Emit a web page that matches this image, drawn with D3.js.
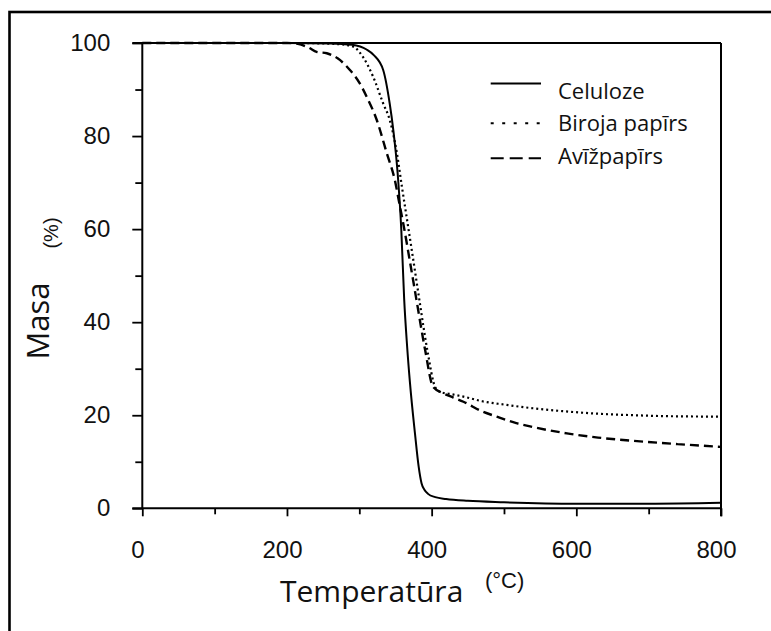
<!DOCTYPE html>
<html><head><meta charset="utf-8">
<script src="https://cdn.jsdelivr.net/npm/d3@7"></script>
<style>body{margin:0;background:#fff}svg{display:block}</style>
</head><body>
<script>
// ---- data ----
const celulozeT = [0,100,200,260,290,310,320,333,342,347,353,358,362,366,370,377,382,386,390,395,405,420,450,500,600,700,800];
const celulozeM = [100,100,100,99.9,99.6,98.6,97.4,94.2,87,81.3,72,60,45,35,27,16,9,5.4,4,3.1,2.4,2.0,1.6,1.3,1.0,1.0,1.2];
const birojaT = [0,100,200,250,275,292,305,319,333,342,352,359,365,374,383,394,405,412,425,444,470,500,540,580,633,680,725,800];
const birojaM = [100,100,100,99.9,99.7,99.2,97,92.8,87,83.5,76.3,69,63,54,44.8,34,26,25,24.6,24,23,22.3,21.5,20.9,20.3,20,19.8,19.7];
const avizT = [0,100,200,215,230,241,255,270,287,300,310,324,338,349,356,361,370,379,391,402,416,430,444,470,490,517,536,587,630,679,740,800];
const avizM = [100,100,100,99.8,99,98.1,97.8,96.7,94.2,91.5,88.5,83.5,76.3,70.6,65,61,53,44.8,34,26.1,24.7,23.8,22.9,20.8,19.7,18.3,17.6,16.1,15.2,14.5,13.8,13.2];
const seriesNames = ["Celuloze","Biroja papīrs","Avīžpapīrs"];
const xMajor = [0,200,400,600,800];
const xMinor = [100,300,500,700];
const yMajor = [0,20,40,60,80,100];
const yMinor = [10,30,50,70,90];

const W = 771, H = 631;
const svg = d3.select("body").append("svg").attr("width", W).attr("height", H);
svg.append("rect").attr("width", W).attr("height", H).attr("fill", "#fff");
// outer frame (right/bottom edges outside the picture)
svg.append("rect").attr("x", 9.5).attr("y", 12).attr("width", 800).attr("height", 700)
  .attr("fill", "none").attr("stroke", "#000").attr("stroke-width", 2.6);

const x = d3.scaleLinear().domain([0, 800]).range([142.3, 721]);
const y = d3.scaleLinear().domain([0, 100]).range([508.3, 43]);

const tickFont = "'Liberation Sans', Arial, sans-serif";
const g = svg.append("g");

// y axis major
const yAx = g.append("g").attr("transform", `translate(${x(0)},0)`)
  .call(d3.axisLeft(y).tickValues(yMajor).tickSize(10).tickPadding(22).tickFormat(d3.format("d")));
yAx.select(".domain").remove();
yAx.selectAll("line").attr("stroke-width", 1.8);
yAx.selectAll("text").attr("font-family", tickFont).attr("font-size", 24).attr("fill", "#111");
const yAxm = g.append("g").attr("transform", `translate(${x(0)},0)`)
  .call(d3.axisLeft(y).tickValues(yMinor).tickSize(7).tickFormat(""));
yAxm.select(".domain").remove();
yAxm.selectAll("line").attr("stroke-width", 1.8);

// x axis
const xAx = g.append("g").attr("transform", `translate(0,${y(0)})`)
  .call(d3.axisBottom(x).tickValues(xMajor).tickSize(8).tickPadding(25).tickFormat(d3.format("d")));
xAx.select(".domain").remove();
xAx.selectAll("line").attr("stroke-width", 1.8);
xAx.selectAll("text").attr("font-family", tickFont).attr("font-size", 24).attr("fill", "#111").attr("dx", -5);
const xAxm = g.append("g").attr("transform", `translate(0,${y(0)})`)
  .call(d3.axisBottom(x).tickValues(xMinor).tickSize(6).tickFormat(""));
xAxm.select(".domain").remove();
xAxm.selectAll("line").attr("stroke-width", 1.8);

// frame lines
const frame = [
  [x(0)-10, y(0), x(800), y(0)],
  [x(0)-10, y(100), x(800), y(100)],
  [x(0), y(100), x(0), y(0)],
  [x(800), y(100), x(800), y(0)+8]
];
g.selectAll("line.frame").data(frame).enter().append("line").attr("class","frame")
  .attr("x1", d=>d[0]).attr("y1", d=>d[1]).attr("x2", d=>d[2]).attr("y2", d=>d[3])
  .attr("stroke", "#000").attr("stroke-width", 2);

// curves
const line = d3.line().x(d=>x(d[0])).y(d=>y(d[1])).curve(d3.curveMonotoneX);
const series = [
  {pts: celulozeT.map((t,i)=>[t, celulozeM[i]]), dash: null, w: 2},
  {pts: birojaT.map((t,i)=>[t, birojaM[i]]), dash: "2,3", w: 2.2},
  {pts: avizT.map((t,i)=>[t, avizM[i]]), dash: "9,5", w: 2.4}
];
series.forEach(s => {
  g.append("path").attr("d", line(s.pts)).attr("fill", "none").attr("stroke", "#000")
   .attr("stroke-width", s.w).attr("stroke-dasharray", s.dash);
});

// legend
const legFont = "'Open Sans', 'Noto Sans', sans-serif";
const leg = [
  {ly: 83.5, ty: 98.5, dash: null},
  {ly: 123.3, ty: 130.5, dash: "3,8.5"},
  {ly: 158.3, ty: 163.5, dash: "13,6"}
];
leg.forEach((l,i) => {
  svg.append("line").attr("x1", 490.7).attr("x2", 541).attr("y1", l.ly).attr("y2", l.ly)
    .attr("stroke", "#000").attr("stroke-width", 2).attr("stroke-dasharray", l.dash);
  svg.append("text").attr("x", 558).attr("y", l.ty).text(seriesNames[i])
    .attr("font-family", legFont).attr("font-size", 22).attr("fill", "#111");
});

// axis titles
svg.append("text").attr("x", 280).attr("y", 602).text("Temperatūra")
  .attr("font-family", legFont).attr("font-size", 30).attr("fill", "#111");
svg.append("text").attr("x", 485).attr("y", 588).text("(°C)")
  .attr("font-family", tickFont).attr("font-size", 22).attr("fill", "#111");
svg.append("text").attr("transform", "translate(49,321) rotate(-90)").attr("text-anchor", "middle")
  .text("Masa").attr("font-family", legFont).attr("font-size", 31).attr("fill", "#111");
svg.append("text").attr("transform", "translate(58,233) rotate(-90)").attr("text-anchor", "middle")
  .text("(%)").attr("font-family", tickFont).attr("font-size", 20).attr("fill", "#111");
</script>
</body></html>
